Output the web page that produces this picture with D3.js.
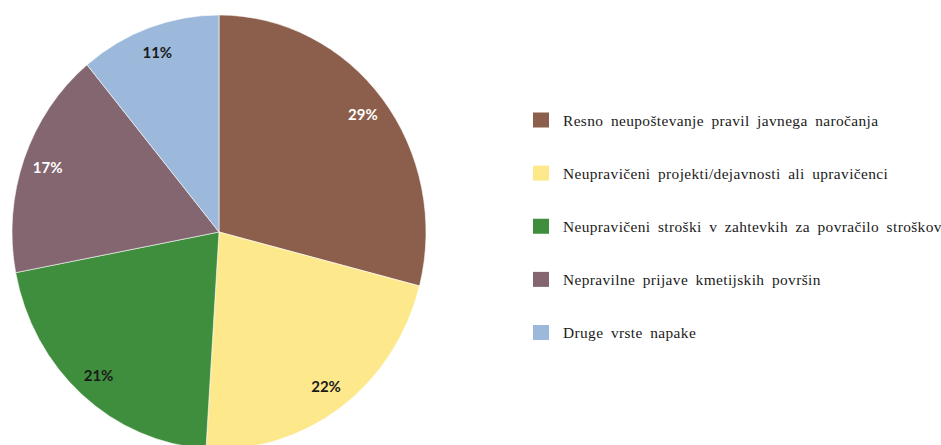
<!DOCTYPE html>
<html>
<head>
<meta charset="utf-8">
<script src="https://cdn.jsdelivr.net/npm/d3@7"></script>
<style>
  body { margin: 0; background: #fff; }
</style>
</head>
<body>
<svg id="chart" width="941" height="445"></svg>
<script>
var categories = [
  "Resno neupoštevanje pravil javnega naročanja",
  "Neupravičeni projekti/dejavnosti ali upravičenci",
  "Neupravičeni stroški v zahtevkih za povračilo stroškov",
  "Nepravilne prijave kmetijskih površin",
  "Druge vrste napake"
];
var values = [29, 22, 21, 17, 11];
var colors = ["#8c5f4c", "#fde98b", "#3f8e3d", "#83666f", "#9cb9dc"];
var labelColors = ["#fff", "#1a1a1a", "#1a1a1a", "#fff", "#1a1a1a"];

var svg = d3.select("#chart"),
  cx = 219,
  cy = 232,
  rx = 207,
  ry = 217,
  ky = ry / rx;

var data = categories.map(function(c, i) {
  return { name: c, value: values[i], color: colors[i], label: labelColors[i] };
});

var pie = d3.pie().sort(null).value(function(d) { return d.value; });
var arcs = pie(data);

var arc = d3.arc().innerRadius(0).outerRadius(rx);
var labelArc = d3.arc().innerRadius(rx * 0.88).outerRadius(rx * 0.88);

// the pie in the source is slightly taller than wide
var g = svg.append("g")
  .attr("transform", "translate(" + cx + "," + cy + ") scale(1," + ky + ")");

g.selectAll("path")
  .data(arcs)
  .enter()
  .append("path")
  .attr("d", arc)
  .attr("fill", function(d) { return d.data.color; })
  .attr("stroke", "#fff")
  .attr("stroke-width", 0.8)
  .attr("stroke-opacity", 0.7);

var lg = svg.append("g")
  .attr("transform", "translate(" + cx + "," + cy + ")");

lg.selectAll("text")
  .data(arcs)
  .enter()
  .append("text")
  .attr("x", function(d) { return labelArc.centroid(d)[0]; })
  .attr("y", function(d) { return labelArc.centroid(d)[1] * ky; })
  .attr("dy", "0.36em")
  .attr("text-anchor", "middle")
  .attr("font-family", "Lato, 'Open Sans', sans-serif")
  .attr("font-weight", "bold")
  .attr("font-size", 15)
  .attr("fill", function(d) { return d.data.label; })
  .text(function(d) { return d.data.value + "%"; });

var legendY = d3.scalePoint()
  .domain(categories)
  .range([120, 332.5]);

var legend = svg.append("g")
  .selectAll("g")
  .data(data)
  .enter()
  .append("g")
  .attr("transform", function(d) { return "translate(533," + legendY(d.name) + ")"; });

legend.append("rect")
  .attr("x", 0)
  .attr("y", -7.5)
  .attr("width", 16)
  .attr("height", 15)
  .attr("fill", function(d) { return d.color; });

legend.append("text")
  .attr("x", 30)
  .attr("y", 5.5)
  .attr("font-family", "'Liberation Serif', 'DejaVu Serif', serif")
  .attr("font-size", 15.4)
  .attr("letter-spacing", 0.38)
  .attr("word-spacing", 3.3)
  .attr("fill", "#1a1a1a")
  .text(function(d) { return d.name; });
</script>
</body>
</html>
